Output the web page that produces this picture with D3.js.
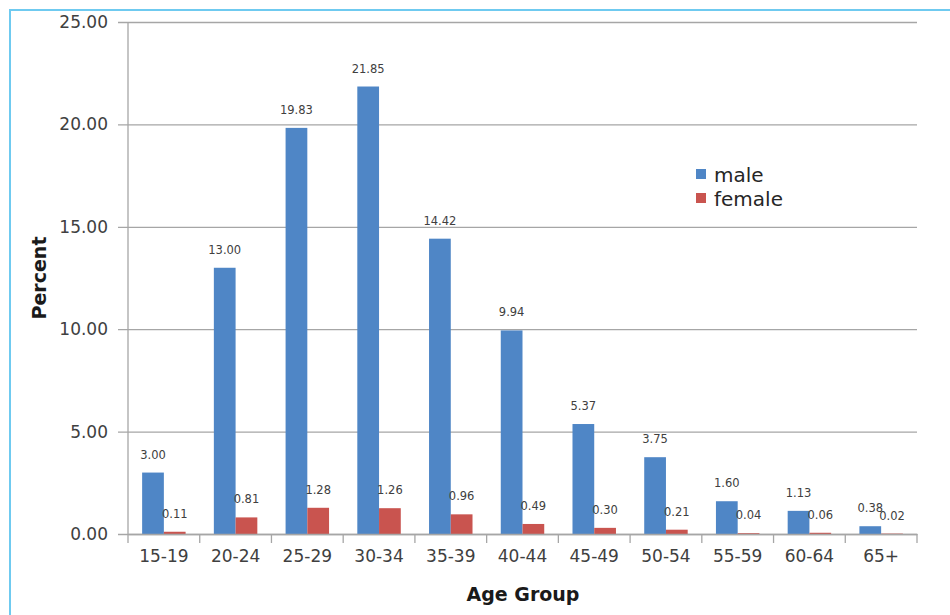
<!DOCTYPE html>
<html><head><meta charset="utf-8">
<script src="https://cdn.jsdelivr.net/npm/d3@7/dist/d3.min.js"></script>
<style>body{margin:0;background:#fff}svg{display:block}</style>
</head><body>
<svg id="c" width="950" height="615"></svg>
<script>
const categories = ["15-19","20-24","25-29","30-34","35-39","40-44","45-49","50-54","55-59","60-64","65+"];
const maleValues = [3.00,13.00,19.83,21.85,14.42,9.94,5.37,3.75,1.60,1.13,0.38];
const femaleValues = [0.11,0.81,1.28,1.26,0.96,0.49,0.30,0.21,0.04,0.06,0.02];
const seriesNames = ["male","female"];
const yTicks = [0,5,10,15,20,25];

const colors = {male:"#4f86c6", female:"#c9544f"};
const font = "'DejaVu Sans', sans-serif";
const svg = d3.select("#c");
const m = {l:128, r:917, t:22, b:534};

// frame
svg.append("path").attr("d","M10,615 V10 H950").attr("fill","none").attr("stroke","#6fcaf0").attr("stroke-width",2);

const x = d3.scaleBand().domain(categories).range([m.l,m.r]).paddingInner(0).paddingOuter(0);
const xs = d3.scaleBand().domain(seriesNames).range([0,x.bandwidth()]).paddingInner(0).paddingOuter(0.65);
const y = d3.scaleLinear().domain([0,25]).range([m.b,m.t]);

// gridlines
const yAxis = d3.axisLeft(y).tickValues(yTicks).tickSize(-(m.r-m.l)).tickFormat(d=>d3.format(".2f")(d)).tickPadding(12);
const gy = svg.append("g").attr("transform",`translate(${m.l},0)`).call(yAxis);
gy.select(".domain").remove();
gy.selectAll(".tick line").attr("stroke","#a6a6a6").attr("stroke-width",1.3).attr("x1",-10);
gy.selectAll(".tick text").attr("font-family",font).attr("font-size",17).attr("fill","#404040").attr("x",-20);

// y axis line
svg.append("line").attr("x1",m.l).attr("x2",m.l).attr("y1",m.t).attr("y2",m.b).attr("stroke","#a6a6a6").attr("stroke-width",1.3);

const data = categories.map((c,i)=>({cat:c, vals:[{s:"male",v:maleValues[i]},{s:"female",v:femaleValues[i]}]}));

const groups = svg.append("g").selectAll("g").data(data).join("g").attr("transform",d=>`translate(${x(d.cat)},0)`);
groups.selectAll("rect").data(d=>d.vals).join("rect")
  .attr("x",d=>xs(d.s)).attr("width",xs.bandwidth())
  .attr("y",d=>y(d.v)).attr("height",d=>y(0)-y(d.v))
  .attr("fill",d=>colors[d.s]);
groups.selectAll("text").data(d=>d.vals).join("text")
  .attr("x",d=>xs(d.s)+xs.bandwidth()/2).attr("y",d=>y(d.v)-14)
  .attr("text-anchor","middle").attr("font-family",font).attr("font-size",11.5).attr("fill","#404040")
  .text(d=>d3.format(".2f")(d.v));

// x axis
const xAxis = d3.axisBottom(x).tickSize(0).tickPadding(16);
const gx = svg.append("g").attr("transform",`translate(0,${m.b})`).call(xAxis);
gx.select(".domain").attr("stroke","#a6a6a6").attr("stroke-width",1.3);
gx.selectAll(".tick text").attr("font-family",font).attr("font-size",17).attr("fill","#404040");
const bounds = categories.map(c=>x(c)).concat([x(categories[categories.length-1])+x.bandwidth()]);
svg.append("g").selectAll("line").data(bounds).join("line")
  .attr("x1",d=>d).attr("x2",d=>d).attr("y1",m.b).attr("y2",m.b+9).attr("stroke","#a6a6a6").attr("stroke-width",1.3);

// titles
svg.append("text").attr("x",523).attr("y",601).attr("text-anchor","middle").attr("font-family",font)
  .attr("font-weight","bold").attr("font-size",19).attr("fill","#1a1a1a").text("Age Group");
svg.append("text").attr("transform","translate(46,278) rotate(-90)").attr("text-anchor","middle").attr("font-family",font)
  .attr("font-weight","bold").attr("font-size",19).attr("fill","#1a1a1a").text("Percent");

// legend
const lg = svg.append("g").attr("transform","translate(696,169)");
seriesNames.forEach((s,i)=>{
  lg.append("rect").attr("x",0).attr("y",i*24).attr("width",10).attr("height",10).attr("fill",colors[s]);
  lg.append("text").attr("x",18).attr("y",i*24+13).attr("font-family",font).attr("font-size",20).attr("fill","#262626").text(s);
});
</script>
</body></html>
